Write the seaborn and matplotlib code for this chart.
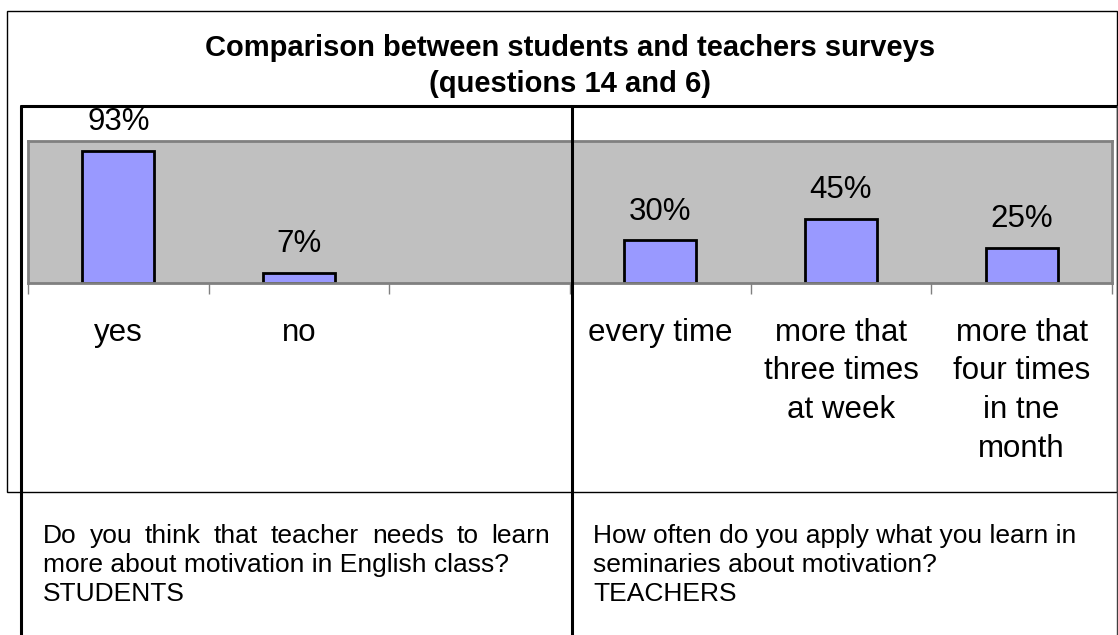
import numpy as np
import pandas as pd
import seaborn as sns
import matplotlib
matplotlib.use('Agg')
import matplotlib.pyplot as plt
from matplotlib.lines import Line2D
from matplotlib.patches import Rectangle

# data
categories = ['yes', 'no', '', 'every time',
              'more that\nthree times\nat week',
              'more that\nfour times\nin tne\nmonth']
values = [93, 7, np.nan, 30, 45, 25]
value_labels = ['93%', '7%', '', '30%', '45%', '25%']

title_lines = ['Comparison between students and teachers surveys',
               '(questions 14 and 6)']
students_question = ['Do you think that teacher needs to learn',
                     'more about motivation in English class?',
                     'STUDENTS']
teachers_question = ['How often do you apply what you learn in',
                     'seminaries about motivation?',
                     'TEACHERS']

W, H = 1118, 635


def fx(px):
    return px / W


def fy(py):
    return 1 - py / H


sns.set_theme(style='white')
plt.rcParams['font.family'] = ['Liberation Sans', 'DejaVu Sans']
plt.rcParams['text.color'] = 'black'
plt.rcParams['xtick.color'] = 'black'

fig = plt.figure(figsize=(W / 100, H / 100), dpi=100)

# outer chart frame
fig.add_artist(Rectangle((fx(7), fy(492)), fx(1117) - fx(7), fy(11) - fy(492),
                         fill=False, ec='black', lw=1, transform=fig.transFigure))

ax = fig.add_axes([fx(28), fy(283), fx(1112) - fx(28), fy(141) - fy(283)])
df = pd.DataFrame({'category': categories, 'value': values})
sns.barplot(data=df, x='category', y='value', order=categories,
            color='#9999FF', saturation=1, width=0.4,
            edgecolor='black', linewidth=2, ax=ax)

ax.set_facecolor('#C0C0C0')
ax.set_xlim(-0.5, 5.5)
ax.set_ylim(0, 100)
ax.set_xlabel('')
ax.set_ylabel('')
ax.set_yticks([])
for s in ax.spines.values():
    s.set_color('#808080')
    s.set_linewidth(2)

ax.set_xticks(range(len(categories)))
ax.set_xticklabels(categories, fontsize=22.5, linespacing=1.38, color='black')
ax.tick_params(axis='x', which='major', length=0, pad=25)
ax.set_xticks(np.arange(-0.5, len(categories), 1), minor=True)
ax.tick_params(axis='x', which='minor', bottom=True, length=8, width=1,
               color='#808080', direction='out')

for i, (v, lab) in enumerate(zip(values, value_labels)):
    if lab:
        ax.annotate(lab, (i, v), xytext=(0, 15), textcoords='offset points',
                    ha='center', va='baseline', fontsize=22.5, color='black',
                    annotation_clip=False)

# title
fig.text(fx(570), fy(56), title_lines[0], ha='center', va='baseline',
         fontsize=21, fontweight='bold')
fig.text(fx(570), fy(92), title_lines[1], ha='center', va='baseline',
         fontsize=21, fontweight='bold')

# table lines
thick = dict(color='black', lw=2.2, transform=fig.transFigure, zorder=5)
thin = dict(color='#404040', lw=1, transform=fig.transFigure, zorder=5)
fig.add_artist(Line2D([fx(21), fx(1117)], [fy(106), fy(106)], **thick))
fig.add_artist(Line2D([fx(21), fx(21)], [fy(106), fy(635)], **thick))
fig.add_artist(Line2D([fx(572), fx(572)], [fy(106), fy(635)], **thick))
fig.add_artist(Line2D([fx(1117), fx(1117)], [fy(106), fy(635)], **thin))

# question texts
renderer = fig.canvas.get_renderer()
q_size = 19
baselines = [543, 572, 601]


def justified(line, x0, x1, y):
    words = line.split()
    texts = [fig.text(0, fy(y), w, va='baseline', fontsize=q_size) for w in words]
    widths = [t.get_window_extent(renderer).width for t in texts]
    gap = (x1 - x0 - sum(widths)) / (len(words) - 1)
    x = x0
    for t, w in zip(texts, widths):
        t.set_x(fx(x))
        x += w + gap


justified(students_question[0], 43, 550, baselines[0])
for line, y in zip(students_question[1:], baselines[1:]):
    fig.text(fx(43), fy(y), line, va='baseline', fontsize=q_size)
for line, y in zip(teachers_question, baselines):
    fig.text(fx(593), fy(y), line, va='baseline', fontsize=q_size)

fig.savefig('out.png', dpi=100)
